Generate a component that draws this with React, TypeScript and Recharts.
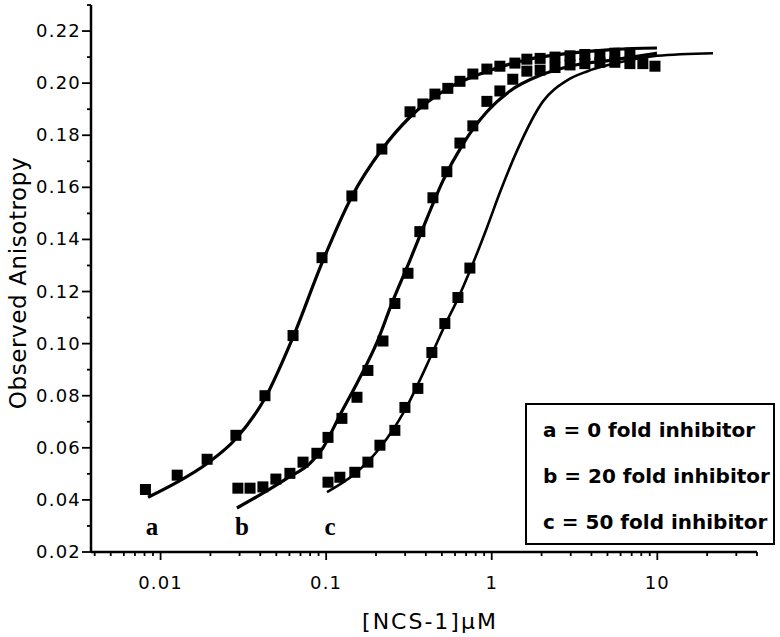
import React from 'react';
import { ComposedChart, Line, Scatter, XAxis, YAxis, ReferenceDot, Legend } from 'recharts';

// measured points, [NCS-1] in uM vs observed anisotropy
const aConc = [0.0081, 0.0126, 0.0191, 0.0285, 0.0427, 0.0631, 0.0944, 0.143, 0.217, 0.321, 0.384, 0.454, 0.543, 0.643, 0.769, 0.935, 1.12, 1.38, 1.63, 1.96, 2.41, 2.97, 3.65, 4.5, 5.54, 6.83];
const aAniso = [0.044, 0.0495, 0.0556, 0.0648, 0.08, 0.1031, 0.133, 0.1567, 0.1747, 0.189, 0.192, 0.1958, 0.198, 0.2007, 0.2035, 0.2054, 0.2065, 0.2077, 0.2092, 0.2095, 0.21, 0.2105, 0.211, 0.211, 0.2115, 0.2115];

const bConc = [0.0293, 0.0347, 0.0415, 0.0497, 0.0604, 0.0725, 0.0879, 0.1026, 0.1245, 0.1535, 0.1787, 0.2203, 0.26, 0.312, 0.368, 0.4415, 0.5357, 0.6427, 0.769, 0.935, 1.12, 1.34, 1.63, 1.96, 2.41, 2.97, 3.65, 4.5, 5.54, 6.83];
const bAniso = [0.0445, 0.0445, 0.045, 0.048, 0.0502, 0.0545, 0.0579, 0.064, 0.0713, 0.0794, 0.0897, 0.101, 0.1154, 0.127, 0.143, 0.156, 0.166, 0.177, 0.1836, 0.193, 0.197, 0.2015, 0.2046, 0.205, 0.206, 0.207, 0.2075, 0.208, 0.208, 0.2075];

const cConc = [0.1026, 0.121, 0.149, 0.1787, 0.2113, 0.26, 0.299, 0.358, 0.435, 0.521, 0.625, 0.738, 8.18, 9.68];
const cAniso = [0.0468, 0.0487, 0.0506, 0.0545, 0.061, 0.0667, 0.0755, 0.0828, 0.0966, 0.1077, 0.1177, 0.129, 0.2075, 0.2065];

// fitted curves
const aFitConc = [0.0084, 0.0126, 0.0191, 0.0285, 0.0427, 0.0631, 0.0944, 0.143, 0.217, 0.321, 0.543, 0.935, 1.63, 2.97, 5.54, 9.95];
const aFitAniso = [0.041, 0.0468, 0.054, 0.0635, 0.079, 0.1025, 0.131, 0.1565, 0.1745, 0.187, 0.198, 0.2045, 0.209, 0.2115, 0.213, 0.2135];

const bFitConc = [0.0289, 0.0415, 0.058, 0.0798, 0.0957, 0.121, 0.16, 0.2027, 0.253, 0.3206, 0.4056, 0.507, 0.67, 0.935, 1.29, 1.96, 2.97, 5.54, 9.95];
const bFitAniso = [0.0369, 0.0426, 0.0483, 0.054, 0.06, 0.0725, 0.087, 0.1005, 0.1165, 0.132, 0.148, 0.1625, 0.1766, 0.189, 0.197, 0.203, 0.2065, 0.209, 0.2115];

const cFitConc = [0.1012, 0.149, 0.2113, 0.299, 0.435, 0.521, 0.6166, 0.769, 0.935, 1.12, 1.42, 2.04, 2.84, 3.76, 5.94, 9.95, 21.7];
const cFitAniso = [0.043, 0.05, 0.06, 0.0745, 0.096, 0.107, 0.1165, 0.1307, 0.1445, 0.158, 0.174, 0.193, 0.201, 0.2045, 0.208, 0.2105, 0.2115];

const curveNames = ['a', 'b', 'c'];
const curveNameConc = [0.00887, 0.031, 0.1054];
const curveNameAniso = 0.0296;

const legendLabels = ['a = 0 fold inhibitor', 'b = 20 fold inhibitor', 'c = 50 fold inhibitor'];

const xMajorTicks = [0.01, 0.1, 1, 10];
const xMinorTicks = [
  0.004, 0.005, 0.006, 0.007, 0.008, 0.009,
  0.02, 0.03, 0.04, 0.05, 0.06, 0.07, 0.08, 0.09,
  0.2, 0.3, 0.4, 0.5, 0.6, 0.7, 0.8, 0.9,
  2, 3, 4, 5, 6, 7, 8, 9,
  20, 30, 40,
];
const xTickLabels = ['0.01', '0.1', '1', '10'];
const yMajorTicks = [0.02, 0.04, 0.06, 0.08, 0.1, 0.12, 0.14, 0.16, 0.18, 0.2, 0.22];
const yMinorTicks = [0.03, 0.05, 0.07, 0.09, 0.11, 0.13, 0.15, 0.17, 0.19, 0.21, 0.23];
const yTickLabels = ['0.02', '0.04', '0.06', '0.08', '0.10', '0.12', '0.14', '0.16', '0.18', '0.20', '0.22'];

const zip = (xs: number[], ys: number[]) => xs.map((x, i) => ({ x, y: ys[i] }));

const tickFont = { fontFamily: '"DejaVu Sans", sans-serif', fontSize: 18, letterSpacing: 1.2, fill: '#000' };

const XTick = (props: any) => {
  const { x, y, payload } = props;
  const idx = xMajorTicks.findIndex((t) => Math.abs(t - payload.value) < 1e-9);
  const major = idx >= 0;
  return (
    <g>
      <line x1={x} x2={x} y1={y} y2={y + (major ? 8 : 4)} stroke="#000" strokeWidth={1.8} />
      {major && (
        <text x={x} y={y + 37} textAnchor="middle" {...tickFont}>
          {xTickLabels[idx]}
        </text>
      )}
    </g>
  );
};

const YTick = (props: any) => {
  const { x, y, payload } = props;
  const idx = yMajorTicks.findIndex((t) => Math.abs(t - payload.value) < 1e-9);
  const major = idx >= 0;
  return (
    <g>
      <line x1={x - (major ? 9 : 4)} x2={x} y1={y} y2={y} stroke="#000" strokeWidth={1.8} />
      {major && (
        <text x={x - 10} y={y + 6} textAnchor="end" {...tickFont}>
          {yTickLabels[idx]}
        </text>
      )}
    </g>
  );
};

const Marker = (props: any) => {
  const { cx, cy } = props;
  if (cx == null || cy == null) return null;
  return <rect x={cx - 5.5} y={cy - 5.5} width={11} height={11} fill="#000" />;
};

const LegendBox = () => (
  <div
    style={{
      boxSizing: 'border-box',
      width: 250,
      height: 142,
      border: '2px solid #000',
      background: '#fff',
      paddingTop: 2,
      paddingLeft: 16,
      fontFamily: '"DejaVu Sans", sans-serif',
      fontWeight: 'bold',
      fontSize: 20,
      lineHeight: '46px',
      color: '#000',
      whiteSpace: 'nowrap',
    }}
  >
    {legendLabels.map((l) => (
      <div key={l}>{l}</div>
    ))}
  </div>
);

export default function App() {
  const allXTicks = [...xMajorTicks, ...xMinorTicks].sort((p, q) => p - q);
  const allYTicks = [...yMajorTicks, ...yMinorTicks].sort((p, q) => p - q);

  return (
    <div style={{ position: 'absolute', left: 0, top: 0, width: 780, height: 637, background: '#fff' }}>
      <ComposedChart width={780} height={637} margin={{ top: 5, right: 23, left: 0, bottom: 0 }}>
        <XAxis
          type="number"
          dataKey="x"
          scale="log"
          domain={[0.0038, 40]}
          allowDataOverflow
          ticks={allXTicks}
          interval={0}
          tick={<XTick />}
          tickLine={false}
          tickSize={0}
          tickMargin={0}
          height={85}
          axisLine={{ stroke: '#000', strokeWidth: 2.5 }}
          label={{
            content: () => (
              <text x={430} y={629} textAnchor="middle" fontFamily='"DejaVu Sans", sans-serif' fontSize={22} letterSpacing={2} fill="#000">
                [NCS-1]µM
              </text>
            ),
          }}
        />
        <YAxis
          type="number"
          dataKey="y"
          domain={[0.02, 0.23]}
          allowDataOverflow
          ticks={allYTicks}
          interval={0}
          tick={<YTick />}
          tickLine={false}
          tickSize={0}
          tickMargin={0}
          width={91}
          axisLine={{ stroke: '#000', strokeWidth: 2.5 }}
          label={{
            content: () => (
              <text
                transform="translate(26,283) rotate(-90)"
                textAnchor="middle"
                fontFamily='"DejaVu Sans", sans-serif'
                fontSize={23}
                letterSpacing={0.6}
                fill="#000"
              >
                Observed Anisotropy
              </text>
            ),
          }}
        />
        <Line data={zip(aFitConc, aFitAniso)} dataKey="y" type="monotone" stroke="#000" strokeWidth={3.2} dot={false} isAnimationActive={false} />
        <Line data={zip(bFitConc, bFitAniso)} dataKey="y" type="monotone" stroke="#000" strokeWidth={3.2} dot={false} isAnimationActive={false} />
        <Line data={zip(cFitConc, cFitAniso)} dataKey="y" type="monotone" stroke="#000" strokeWidth={2.6} dot={false} isAnimationActive={false} />
        <Scatter data={zip(aConc, aAniso)} dataKey="y" shape={<Marker />} isAnimationActive={false} />
        <Scatter data={zip(bConc, bAniso)} dataKey="y" shape={<Marker />} isAnimationActive={false} />
        <Scatter data={zip(cConc, cAniso)} dataKey="y" shape={<Marker />} isAnimationActive={false} />
        {curveNames.map((n, i) => (
          <ReferenceDot
            key={n}
            x={curveNameConc[i]}
            y={curveNameAniso}
            r={0}
            shape={(p: any) => (
              <text x={p.cx} y={p.cy + 8} textAnchor="middle" fontFamily='"Liberation Serif", serif' fontWeight="bold" fontSize={25} fill="#000">
                {n}
              </text>
            )}
          />
        ))}
        <Legend
          layout="horizontal"
          verticalAlign="middle"
          align="center"
          content={<LegendBox />}
          wrapperStyle={{ position: 'absolute', left: 525, top: 403, width: 250, height: 142 }}
        />
      </ComposedChart>
    </div>
  );
}
